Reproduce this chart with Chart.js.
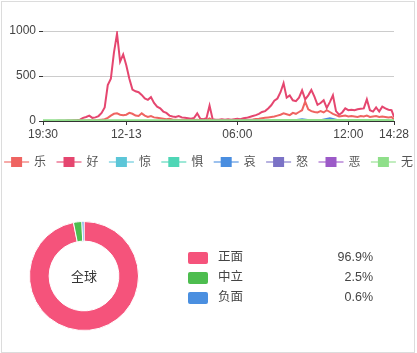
<!DOCTYPE html>
<html>
<head>
<meta charset="utf-8">
<script src="https://cdn.jsdelivr.net/npm/chart.js@4.4.1/dist/chart.umd.min.js"></script>
<style>
  body { margin: 0; background: #fff; }
  #frame { position: absolute; left: 1px; top: 1px; width: 414px; height: 352px; box-sizing: border-box; border: 1px solid #dcdcdc; }
  #trendWrap { position: absolute; left: 0; top: 0; width: 417px; height: 180px; }
  #pieWrap { position: absolute; left: 0; top: 200px; width: 417px; height: 150px; }
</style>
</head>
<body>
<div id="frame"></div>
<div id="trendWrap"><canvas id="trendChart"></canvas></div>
<div id="pieWrap"><canvas id="sentimentChart"></canvas></div>
<script>
// ---- data ----
// minutes counted from 19:30 on 12-12; last sample is 14:28 on 12-13
const endMinute = 1138;
const tickMinutes = [0, 270, 630, 990, 1138];
const tickLabels = ["19:30", "12-13", "06:00", "12:00", "14:28"];

const emotionNames = ["乐", "好", "惊", "惧", "哀", "怒", "恶", "无"];
const emotionColors = ["#ef6461", "#e5466f", "#5cc6d8", "#4fd6b6", "#4a8ee0", "#7b72c6", "#9c5ac8", "#8fdf8a"];

// 10 minute samples
const joyValues = [
  0, 0, 0, 0, 0, 0, 0, 0, 0, 0,
  0, 2, 3, 5, 5, 8, 5, 8, 10, 15,
  20, 35, 60, 80, 85, 70, 65, 70, 90, 80,
  60, 55, 85, 60, 45, 55, 40, 35, 30, 25,
  20, 25, 18, 15, 12, 15, 10, 12, 10, 10,
  15, 8, 8, 10, 30, 8, 6, 6, 8, 6,
  8, 6, 8, 10, 8, 10, 12, 15, 18, 22,
  25, 30, 35, 40, 45, 50, 60, 70, 85, 75,
  65, 90, 80, 100, 120, 215, 130, 110, 100, 95,
  110, 95, 120, 100, 80, 65, 50, 55, 60, 50,
  55, 50, 45, 55, 50, 60, 45, 50, 55, 45,
  50, 45, 40, 45, 20
];
const likeValues = [
  0, 0, 0, 0, 0, 2, 3, 3, 5, 5,
  8, 10, 15, 35, 45, 60, 35, 40, 55, 90,
  150, 400, 470, 760, 970, 660, 740, 620, 470, 350,
  330, 320, 290, 250, 235, 265, 200, 160, 140, 105,
  90, 60, 50, 45, 55, 40, 35, 30, 25, 35,
  85, 25, 20, 30, 170, 20, 15, 15, 20, 15,
  20, 15, 20, 25, 20, 30, 35, 45, 55, 65,
  80, 100, 110, 140, 175, 225, 250, 320, 420, 260,
  285, 230, 220, 260, 340, 240, 285, 345, 270, 180,
  200, 230, 145, 210, 285, 110, 70, 95, 140, 120,
  125, 120, 130, 135, 140, 240, 120, 105, 150, 105,
  160, 140, 125, 120, 45
];
// 30 minute samples
const sadValues = [0, 0, 0, 0, 0, 0, 0, 0, 0, 0, 0, 1, 0, 0, 0, 0, 0, 0, 0, 0, 1, 0, 2, 3, 2, 3, 4, 6, 20, 5, 8, 30, 6, 4, 3, 2, 3, 2, 1];
const noneValues = [2, 2, 2, 2, 3, 3, 4, 4, 4, 4, 3, 3, 3, 3, 3, 3, 3, 3, 3, 3, 3, 3, 4, 4, 4, 5, 5, 5, 5, 5, 5, 5, 5, 5, 5, 5, 5, 5, 4];
// hourly samples
const surpriseValues = [0, 0, 0, 0, 1, 1, 0, 0, 0, 0, 0, 0, 0, 1, 1, 1, 1, 1, 1, 1];
const fearValues = [0, 0, 0, 0, 0, 1, 0, 0, 0, 0, 0, 0, 0, 0, 1, 1, 0, 1, 0, 0];
const angerValues = [0, 0, 0, 0, 1, 1, 0, 0, 0, 0, 0, 0, 0, 1, 1, 1, 1, 0, 1, 0];
const disgustValues = [0, 0, 0, 0, 0, 1, 0, 0, 0, 0, 0, 0, 0, 0, 1, 1, 1, 1, 0, 0];

const sentimentLabels = ["正面", "中立", "负面"];
const sentimentValues = [96.9, 2.5, 0.6];
const sentimentColors = ["#f5537b", "#4dbd4f", "#4a8fe0"];
const regionLabel = "全球";

const fontFamily = "'Liberation Sans', 'Noto Sans CJK SC', sans-serif";

function toPoints(values, step) {
  return values.map((v, i) => ({ x: Math.min(i * step, endMinute), y: v }));
}

const seriesList = [
  { values: joyValues, step: 10, order: 3 },
  { values: likeValues, step: 10, order: 2 },
  { values: surpriseValues, step: 60, order: 4 },
  { values: fearValues, step: 60, order: 4 },
  { values: sadValues, step: 30, order: 1 },
  { values: angerValues, step: 60, order: 4 },
  { values: disgustValues, step: 60, order: 4 },
  { values: noneValues, step: 30, order: 0 },
];

// Legend drawn under the trend chart: line + square marker, then the name
const trendLegend = {
  id: "trendLegend",
  afterDraw(chart) {
    const ctx = chart.ctx;
    const sets = chart.data.datasets;
    const pitch = 52.4;
    const itemW = 42;
    let x = (chart.width - ((sets.length - 1) * pitch + itemW)) / 2;
    const y = chart.chartArea.bottom + 41;
    ctx.save();
    ctx.font = "12px " + fontFamily;
    ctx.textBaseline = "middle";
    sets.forEach((ds) => {
      ctx.globalAlpha = 0.55;
      ctx.strokeStyle = ds.borderColor;
      ctx.lineWidth = 2;
      ctx.beginPath();
      ctx.moveTo(x, y);
      ctx.lineTo(x + 25, y);
      ctx.stroke();
      ctx.globalAlpha = 1;
      ctx.fillStyle = ds.borderColor;
      ctx.fillRect(x + 7, y - 5, 11, 10);
      ctx.fillStyle = "#555";
      ctx.fillText(ds.label, x + 30, y + 1);
      x += pitch;
    });
    ctx.restore();
  },
};

new Chart(document.getElementById("trendChart"), {
  type: "line",
  data: {
    datasets: seriesList.map((s, i) => ({
      label: emotionNames[i],
      data: toPoints(s.values, s.step),
      borderColor: emotionColors[i],
      backgroundColor: emotionColors[i],
      borderWidth: i === 7 ? 3 : 2,
      pointRadius: 0,
      tension: 0,
      order: s.order,
    })),
  },
  options: {
    responsive: true,
    maintainAspectRatio: false,
    animation: false,
    layout: { padding: { top: 31, right: 23, bottom: 34, left: 0 } },
    plugins: { legend: { display: false }, tooltip: { enabled: false } },
    scales: {
      x: {
        type: "linear",
        min: 0,
        max: endMinute,
        afterBuildTicks: (scale) => {
          scale.ticks = tickMinutes.map((v) => ({ value: v }));
        },
        afterFit: (scale) => {
          scale.height = 25;
        },
        ticks: {
          autoSkip: false,
          maxRotation: 0,
          padding: 2,
          color: "#444",
          font: { size: 12, family: fontFamily },
          callback: (v, i) => tickLabels[i],
        },
        grid: { drawOnChartArea: false, tickLength: 4, tickColor: "#333" },
        border: { color: "#333" },
      },
      y: {
        min: 0,
        max: 1000,
        afterFit: (scale) => {
          scale.width = 43;
        },
        ticks: {
          stepSize: 500,
          padding: 3,
          color: "#444",
          font: { size: 12, family: fontFamily },
          callback: (v) => String(v),
        },
        grid: {
          color: (c) => (c.tick && c.tick.value === 0 ? "#333" : "#ccc"),
          tickLength: 4,
          tickColor: "#333",
        },
        border: { display: false },
      },
    },
  },
  plugins: [trendLegend],
});

// Donut: centre caption and a value legend on the right
const sentimentLegend = {
  id: "sentimentLegend",
  afterDraw(chart) {
    const ctx = chart.ctx;
    const arc = chart.getDatasetMeta(0).data[0];
    ctx.save();
    ctx.textBaseline = "middle";
    ctx.font = "13px " + fontFamily;
    ctx.fillStyle = "#333";
    ctx.textAlign = "center";
    ctx.fillText(regionLabel, arc.x, arc.y + 1);

    ctx.font = "12.5px " + fontFamily;
    chart.data.labels.forEach((label, i) => {
      const y = 58 + i * 20;
      ctx.fillStyle = sentimentColors[i];
      ctx.beginPath();
      ctx.roundRect(188, y - 6, 20, 12, 2);
      ctx.fill();
      ctx.fillStyle = "#444";
      ctx.textAlign = "left";
      ctx.fillText(label, 218, y);
      ctx.textAlign = "right";
      ctx.fillText(chart.data.datasets[0].data[i].toFixed(1) + "%", 373, y);
    });
    ctx.restore();
  },
};

new Chart(document.getElementById("sentimentChart"), {
  type: "doughnut",
  data: {
    labels: sentimentLabels,
    datasets: [
      {
        data: sentimentValues,
        backgroundColor: sentimentColors,
        borderColor: "#fff",
        borderWidth: 1,
      },
    ],
  },
  options: {
    responsive: true,
    maintainAspectRatio: false,
    animation: false,
    cutout: "64%",
    layout: { padding: { top: 21, right: 278, bottom: 19, left: 29 } },
    plugins: { legend: { display: false }, tooltip: { enabled: false } },
  },
  plugins: [sentimentLegend],
});
</script>
</body>
</html>
